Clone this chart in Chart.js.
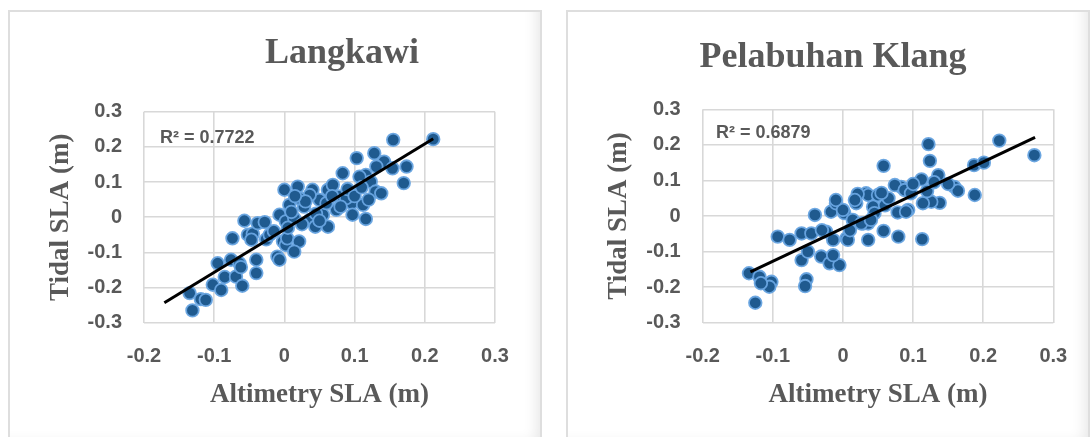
<!DOCTYPE html>
<html>
<head>
<meta charset="utf-8">
<script src="https://cdn.jsdelivr.net/npm/chart.js@4.4.0/dist/chart.umd.min.js"></script>
<style>
  html, body { margin: 0; padding: 0; background: #fff; width: 1091px; height: 437px; overflow: hidden; }
  .panel {
    position: absolute; top: 10px; height: 440px; box-sizing: border-box;
    border: 2px solid #dedede; background: #fff;
    box-shadow: inset -10px -12px 14px -7px rgba(0,0,0,0.10);
  }
  #p1 { left: 8px; width: 534px; }
  #p2 { left: 566px; width: 524px; }
  canvas { position: absolute; top: 0; filter: blur(0.5px); }
  #c1 { left: 0; }
  #c2 { left: 546px; }
</style>
</head>
<body>
<div class="panel" id="p1"></div>
<div class="panel" id="p2"></div>
<canvas id="c1" width="545" height="437"></canvas>
<canvas id="c2" width="545" height="437"></canvas>
<script>
// Axis ticks shared by both panels
const xTickValues = [-0.2, -0.1, 0, 0.1, 0.2, 0.3];
const xTickLabels = ['-0.2', '-0.1', '0', '0.1', '0.2', '0.3'];
const yTickValues = [-0.3, -0.2, -0.1, 0, 0.1, 0.2, 0.3];
const yTickLabels = ['-0.3', '-0.2', '-0.1', '0', '0.1', '0.2', '0.3'];

// Langkawi: altimetry SLA vs tide-gauge SLA (m)
const langkawiAlt = [
  -0.131, -0.135, -0.119, -0.112, -0.102, -0.090, -0.095, -0.085, -0.076, -0.069,
  -0.064, -0.062, -0.060, -0.040, -0.040, -0.074, -0.057, -0.052, -0.045, -0.047,
  -0.038, -0.028, -0.026, -0.021, -0.010, -0.007, -0.002, 0.002, 0.004, 0.021,
  0.014, -0.007, 0.002, 0.014, 0.036, 0.055, 0.000, 0.019, 0.040, 0.062,
  0.083, 0.103, 0.128, 0.142, 0.154, 0.174, 0.170, 0.131, 0.116, 0.123,
  0.130, 0.138, 0.096, 0.112, 0.116, 0.097, 0.074, 0.062, 0.044, 0.007,
  0.028, 0.050, 0.078, 0.069, 0.036, 0.021, 0.155, 0.212, 0.088, 0.107,
  0.010, 0.025, 0.045, 0.060, 0.080, 0.090, 0.005, 0.030, 0.050, 0.068,
  0.100, 0.015, 0.110, -0.015, 0.120
];
const langkawiTidal = [
  -0.265, -0.216, -0.233, -0.235, -0.192, -0.207, -0.131, -0.170, -0.121, -0.169,
  -0.131, -0.142, -0.195, -0.121, -0.159, -0.060, -0.010, -0.050, -0.047, -0.064,
  -0.017, -0.014, -0.063, -0.050, -0.112, -0.121, -0.069, -0.079, -0.060, -0.069,
  -0.098, 0.007, -0.012, -0.003, -0.008, 0.007, 0.078, 0.087, 0.078, 0.078,
  0.125, 0.168, 0.182, 0.158, 0.139, 0.144, 0.097, 0.144, 0.120, 0.101,
  0.073, 0.068, 0.040, 0.035, -0.005, 0.007, 0.021, -0.027, -0.027, 0.035,
  0.030, 0.049, 0.059, 0.092, 0.063, 0.054, 0.220, 0.222, 0.054, 0.115,
  0.015, -0.020, 0.010, 0.040, 0.030, 0.080, -0.030, 0.045, -0.010, 0.060,
  0.060, 0.060, 0.085, -0.040, 0.050
];
const langkawiFit = [1.217, -0.035];       // slope, intercept
const langkawiFitRange = [-0.171, 0.212];   // x extent of the trend line

// Pelabuhan Klang: altimetry SLA vs tide-gauge SLA (m)
const klangAlt = [
  -0.134, -0.119, -0.102, -0.105, -0.117, -0.125, -0.052, -0.054, -0.093, -0.076,
  -0.059, -0.045, -0.040, -0.059, -0.050, -0.031, -0.019, -0.005, -0.014, -0.024,
  -0.014, -0.017, -0.010, 0.002, 0.005, 0.019, 0.033, 0.014, 0.029, 0.036,
  0.043, 0.122, 0.124, 0.058, 0.223, 0.273, 0.187, 0.201, 0.188, 0.159,
  0.164, 0.136, 0.112, 0.138, 0.126, 0.114, 0.083, 0.074, 0.088, 0.097,
  0.093, 0.078, 0.058, 0.079, 0.113, 0.036, 0.050, 0.021, 0.000, 0.045,
  0.036, 0.090, -0.010, 0.017, 0.026, 0.040, 0.007, 0.010, 0.060, 0.065,
  0.100, 0.120, -0.030, 0.150, 0.130, 0.055
];
const klangTidal = [
  -0.161, -0.171, -0.185, -0.199, -0.189, -0.244, -0.178, -0.197, -0.058, -0.067,
  -0.049, -0.049, 0.003, -0.124, -0.100, -0.114, -0.133, -0.138, -0.110, -0.044,
  -0.067, 0.012, 0.036, 0.008, -0.063, 0.036, 0.064, -0.011, -0.021, -0.067,
  0.026, 0.202, 0.155, 0.141, 0.212, 0.171, 0.143, 0.150, 0.059, 0.082,
  0.071, 0.115, 0.103, 0.037, 0.040, 0.036, 0.082, 0.087, 0.073, 0.064,
  0.017, 0.010, -0.042, -0.058, -0.065, 0.059, 0.059, 0.062, 0.017, 0.008,
  -0.021, 0.012, 0.045, 0.045, -0.021, -0.011, -0.067, -0.040, 0.030, 0.050,
  0.090, 0.070, -0.040, 0.090, 0.095, 0.065
];
const klangFit = [0.931, -0.034];
const klangFitRange = [-0.132, 0.274];

const textGrey = '#595959';
const gridGrey = '#d8d8d8';

// Title and R² annotation drawn on top of the plot
const panelText = {
  id: 'panelText',
  afterDraw(chart, args, o) {
    const ctx = chart.ctx;
    ctx.save();
    ctx.fillStyle = textGrey;
    ctx.font = 'bold 36px "Liberation Serif"';
    ctx.textAlign = 'center';
    ctx.textBaseline = 'alphabetic';
    ctx.fillText(o.title, o.titleX, o.titleY);
    ctx.font = 'bold 18px "Liberation Sans"';
    ctx.textAlign = 'left';
    ctx.textBaseline = 'middle';
    ctx.fillText(o.r2, o.r2X, o.r2Y);
    ctx.restore();
  }
};

function buildChart(id, cfg) {
  const points = cfg.alt.map((x, i) => ({ x: x, y: cfg.tidal[i] }));
  const line = cfg.fitRange.map(x => ({ x: x, y: cfg.fit[0] * x + cfg.fit[1] }));
  return new Chart(document.getElementById(id), {
    type: 'scatter',
    data: {
      datasets: [
        {
          data: line, showLine: true, borderColor: '#000', borderWidth: 3,
          pointRadius: 0, order: 0
        },
        {
          data: points, pointRadius: 6.3, pointBorderWidth: 1.8,
          backgroundColor: '#1f5a8f', borderColor: 'rgba(105,165,225,0.95)', order: 1
        }
      ]
    },
    options: {
      responsive: false,
      animation: false,
      layout: { padding: { left: 0, top: cfg.top, right: cfg.right, bottom: 0 } },
      plugins: {
        legend: { display: false },
        tooltip: { enabled: false },
        panelText: cfg.text
      },
      scales: {
        x: {
          type: 'linear', min: -0.2, max: 0.3,
          afterBuildTicks: s => { s.ticks = xTickValues.map(v => ({ value: v })); },
          afterFit: s => { s.height = 114.3; },
          ticks: {
            padding: 22, color: textGrey,
            font: { family: '"Liberation Sans"', size: 20, weight: 'bold' },
            callback: (v, i) => xTickLabels[i]
          },
          grid: { color: gridGrey, lineWidth: 1.6, drawTicks: false },
          border: { display: false },
          title: {
            display: true, text: 'Altimetry SLA (m)', color: textGrey,
            font: { family: '"Liberation Serif"', size: 27, weight: 'bold' },
            padding: { top: 0, bottom: 25.8 }
          }
        },
        y: {
          type: 'linear', min: -0.3, max: 0.3,
          afterBuildTicks: s => { s.ticks = yTickValues.map(v => ({ value: v })); },
          afterFit: s => { s.width = cfg.yWidth; },
          ticks: {
            padding: 22, color: textGrey,
            font: { family: '"Liberation Sans"', size: 20, weight: 'bold' },
            callback: (v, i) => yTickLabels[i]
          },
          grid: { color: gridGrey, lineWidth: 1.6, drawTicks: false },
          border: { display: false },
          title: {
            display: true, text: 'Tidal SLA (m)', color: textGrey,
            font: { family: '"Liberation Serif"', size: 27, weight: 'bold' },
            padding: { top: cfg.yTitlePad, bottom: 0 }
          }
        }
      }
    },
    plugins: [panelText]
  });
}

buildChart('c1', {
  alt: langkawiAlt, tidal: langkawiTidal, fit: langkawiFit, fitRange: langkawiFitRange,
  top: 111.7, right: 50, yWidth: 144, yTitlePad: 44.4,
  text: { title: 'Langkawi', titleX: 342, titleY: 63, r2: 'R² = 0.7722', r2X: 160, r2Y: 138 }
});

buildChart('c2', {
  alt: klangAlt, tidal: klangTidal, fit: klangFit, fitRange: klangFitRange,
  top: 109.3, right: 37.7, yWidth: 156.7, yTitlePad: 57.2,
  text: { title: 'Pelabuhan Klang', titleX: 287, titleY: 66.5, r2: 'R² = 0.6879', r2X: 170, r2Y: 133 }
});
</script>
</body>
</html>
